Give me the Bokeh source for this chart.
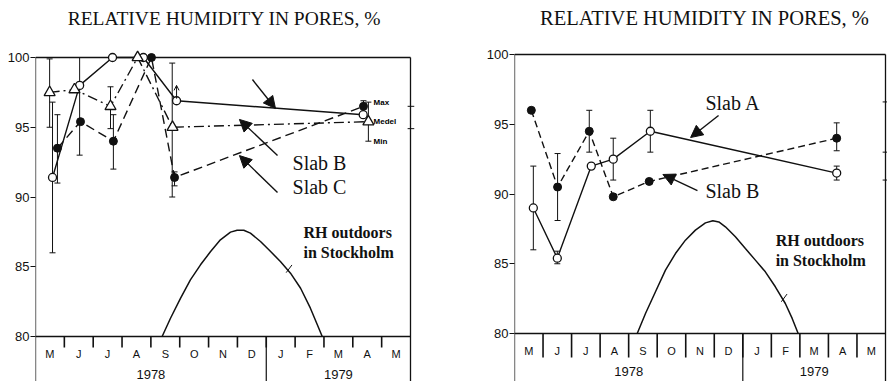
import numpy as np
from bokeh.plotting import figure
from bokeh.layouts import row
from bokeh.models import Arrow, NormalHead, OpenHead, FixedTicker
from bokeh.core.properties import value
from bokeh.embed import file_html
from bokeh.resources import INLINE

# ---- shared axis data -------------------------------------------------------
MONTHS = ["M", "J", "J", "A", "S", "O", "N", "D", "J", "F", "M", "A", "M"]
YEARS = ["1978", "1979"]
YEAR_START = [0, 8]          # month index where each year begins
YEAR_END = [8, 13]
RH_TICKS = [80, 85, 90, 95, 100]
TITLE = "RELATIVE HUMIDITY IN PORES, %"

# ---- left panel (time in months from 1 May 1978) ----------------------------
L_OPEN_T = [0.59, 1.53, 2.67, 3.74, 4.89, 11.36]
L_OPEN_RH = [91.4, 98.0, 100.0, 100.0, 96.9, 95.9]
L_FILLED_T = [0.76, 1.56, 2.70, 4.02, 4.82, 11.37]
L_FILLED_RH = [93.5, 95.4, 94.0, 100.0, 91.4, 96.5]
L_TRI_T = [0.49, 1.35, 2.60, 3.54, 4.75, 11.54]
L_TRI_RH = [97.5, 97.7, 96.5, 100.0, 95.0, 95.4]
L_ERR_T = [0.49, 0.59, 0.76, 1.53, 2.60, 2.70, 4.74, 4.82, 11.37, 11.54]
L_ERR_MIN = [95.0, 86.0, 91.0, 93.0, 94.9, 92.0, 90.0, 90.8, 96.1, 94.0]
L_ERR_MAX = [99.9, 96.8, 95.9, 100.0, 97.9, 95.9, 99.6, 91.8, 96.9, 96.8]
L_OUT_T = [4.39, 4.68, 5.03, 5.37, 5.72, 6.07, 6.41, 6.76, 6.99, 7.22, 7.45, 7.80,
           8.15, 8.49, 8.84, 9.19, 9.53, 9.77, 9.94]
L_OUT_RH = [80.0, 81.31, 82.75, 84.06, 85.14, 86.09, 86.93, 87.48, 87.62, 87.62,
            87.41, 86.81, 86.09, 85.38, 84.54, 83.46, 82.03, 80.84, 80.0]
L_EDGE_MARKS = [96.5, 94.9]

# ---- right panel ------------------------------------------------------------
R_OPEN_T = [0.66, 1.50, 2.69, 3.46, 4.76, 11.29]
R_OPEN_RH = [89.0, 85.4, 92.0, 92.5, 94.5, 91.5]
R_FILLED_T = [0.59, 1.51, 2.62, 3.46, 4.72, 11.29]
R_FILLED_RH = [96.0, 90.5, 94.5, 89.8, 90.9, 94.0]
R_ERR_T = [0.66, 1.50, 1.51, 2.62, 3.46, 4.76, 11.29, 11.29]
R_ERR_MIN = [86.0, 85.0, 88.1, 93.0, 91.0, 93.0, 93.1, 91.0]
R_ERR_MAX = [92.0, 85.9, 92.9, 96.0, 94.0, 96.0, 95.1, 92.0]
R_OUT_T = [4.30, 4.59, 4.94, 5.29, 5.64, 5.99, 6.34, 6.69, 6.95, 7.16, 7.39, 7.74,
           8.09, 8.44, 8.79, 9.14, 9.49, 9.73, 9.94]
R_OUT_RH = [80.0, 81.43, 82.99, 84.54, 85.73, 86.69, 87.41, 87.93, 88.08, 88.0,
            87.65, 86.93, 86.09, 85.26, 84.42, 83.35, 82.15, 81.08, 80.0]
R_EDGE_MARKS = [96.6, 93.0, 91.0]

INK = "#111111"
SERIF = value("Liberation Serif")
SANS = value("Liberation Sans")


def make_panel(width, left_px, px_month, px_rh, y_base_px, y_top_px):
    height = 381
    x_end = (width - left_px) / px_month
    y_end = 100 + y_top_px / px_rh
    y_start = 80 - (height - y_base_px) / px_rh
    p = figure(width=width, height=height, x_range=(0, x_end), y_range=(y_start, y_end),
               output_backend="svg", toolbar_location=None, x_axis_location=None,
               title_location=None, min_border=0, min_border_left=left_px)
    p.outline_line_color = None
    p.grid.visible = False
    p.background_fill_color = "white"
    p.border_fill_color = "white"
    ax = p.yaxis[0]
    ax.ticker = FixedTicker(ticks=RH_TICKS)
    ax.axis_line_color = None
    ax.major_tick_out = 5
    ax.major_tick_in = 0
    ax.minor_tick_line_color = None
    ax.major_tick_line_color = INK
    ax.major_tick_line_width = 1.2
    ax.major_label_standoff = 1
    ax.major_label_text_font = "Liberation Sans"
    ax.major_label_text_font_size = "13px"
    ax.major_label_text_color = INK

    n = len(MONTHS)
    # frame: left, right, top and bottom (80 %) lines
    p.segment(x0=[0, n], y0=[y_start, y_start], x1=[0, n], y1=[100, 100],
              line_color=INK, line_width=1.3)
    p.segment(x0=[0, 0], y0=[100, 80], x1=[n, n], y1=[100, 80],
              line_color=INK, line_width=1.4)
    p.segment(x0=[YEAR_END[0]], y0=[80.0], x1=[YEAR_END[0]], y1=[y_start],
              line_color=INK, line_width=1.2)
    month_y = 80 - 17 / px_rh
    p.text(x=[i + 0.5 for i in range(n)], y=[month_y] * n, text=MONTHS,
           text_align="center", text_baseline="middle", text_font=SANS,
           text_font_size="11px", text_color=INK)
    year_y = month_y - 21 / px_rh
    p.text(x=[(a + b) / 2 for a, b in zip(YEAR_START, YEAR_END)], y=[year_y] * 2,
           text=YEARS, text_align="center", text_baseline="middle", text_font=SANS,
           text_font_size="13px", text_color=INK)
    return p


def month_separators(p, px_rh, length_px):
    sx = [float(i) for i in range(1, len(MONTHS))]
    bot = 80.0 - length_px / px_rh
    p.segment(x0=sx, y0=[80.0] * len(sx), x1=sx, y1=[bot] * len(sx),
              line_color=INK, line_width=1.6)


def error_bars(p, t, lo, hi):
    p.segment(x0=t, y0=lo, x1=t, y1=hi, line_color=INK, line_width=1)
    p.scatter(x=t + t, y=lo + hi, marker="dash", size=6, line_color=INK, line_width=1)


def outdoor_curve(p, t, rh, mark_t, text_x, text_y):
    p.line(x=t, y=rh, line_color=INK, line_width=1.5)
    my = float(np.interp(mark_t, t, rh))
    p.segment(x0=[mark_t - 0.03], y0=[my - 0.25], x1=[mark_t + 0.17], y1=[my + 0.3],
              line_color=INK, line_width=1)
    p.text(x=[text_x, text_x], y=[text_y, text_y - 1.45],
           text=["RH outdoors", "in Stockholm"], text_font=SERIF,
           text_font_style="bold", text_font_size="16px", text_baseline="middle",
           text_color=INK)


def arrow(p, x0, y0, x1, y1, size=12):
    p.add_layout(Arrow(x_start=x0, y_start=y0, x_end=x1, y_end=y1,
                       line_color=INK, line_width=1.4,
                       end=NormalHead(size=size, fill_color=INK, line_color=INK)))


# ---------------- left panel ----------------
left = make_panel(470, 35, 375 / 13, 13.95, 336, 57)
left.text(x=[6.55], y=[80 + (336 - 28) / 13.95], text=[TITLE], text_align="center",
          text_font=SERIF, text_font_size="19.5px", text_color=INK)
outdoor_curve(left, L_OUT_T, L_OUT_RH, 8.72, 9.29, 87.46)
left.segment(x0=[12.9] * 2, y0=L_EDGE_MARKS, x1=[13.13] * 2, y1=L_EDGE_MARKS,
             line_color=INK, line_width=1)

left.line(L_OPEN_T, L_OPEN_RH, line_color=INK, line_width=1.4)
left.line(L_FILLED_T, L_FILLED_RH, line_color=INK, line_width=1.4, line_dash="9 5")
left.line(L_TRI_T, L_TRI_RH, line_color=INK, line_width=1.4, line_dash="10 4 2 4")
error_bars(left, L_ERR_T, L_ERR_MIN, L_ERR_MAX)
left.add_layout(Arrow(x_start=L_OPEN_T[4], y_start=L_OPEN_RH[4] + 0.15,
                      x_end=L_OPEN_T[4], y_end=L_OPEN_RH[4] + 1.1,
                      line_color=INK, line_width=1,
                      end=OpenHead(size=5, line_color=INK, line_width=1)))
left.scatter(L_OPEN_T, L_OPEN_RH, marker="circle", size=8, fill_color="white",
             line_color=INK, line_width=1.3)
left.scatter(L_FILLED_T, L_FILLED_RH, marker="circle", size=8, fill_color=INK,
             line_color=INK)
left.scatter(L_TRI_T, L_TRI_RH, marker="triangle", size=11, fill_color="white",
             line_color=INK, line_width=1.3)

# Max / Medel / Min key on the last triangle's bar
left.text(x=[11.72] * 3, y=[L_ERR_MAX[-1], L_TRI_RH[-1], L_ERR_MIN[-1]],
          text=["Max", "Medel", "Min"], text_baseline="middle", text_font=SANS,
          text_font_style="bold", text_font_size="8px", text_color="#000000")

arrow(left, 7.52, 98.42, 8.32, 96.34)
arrow(left, 8.39, 92.97, 7.07, 95.56)
arrow(left, 8.39, 90.32, 7.07, 92.97)
left.text(x=[8.91, 8.91], y=[92.47, 90.75], text=["Slab B", "Slab C"],
          text_baseline="middle", text_font=SERIF, text_font_size="20px",
          text_color=INK)
month_separators(left, 13.95, 11)

# ---------------- right panel ----------------
right = make_panel(417, 44, 371 / 13, 13.95, 333, 54)
right.text(x=[6.67], y=[80 + (333 - 28) / 13.95], text=[TITLE], text_align="center",
           text_font=SERIF, text_font_size="20.5px", text_color=INK)
outdoor_curve(right, R_OUT_T, R_OUT_RH, 9.38, 9.15, 86.67)
right.segment(x0=[12.9] * 3, y0=R_EDGE_MARKS, x1=[13.1] * 3, y1=R_EDGE_MARKS,
              line_color=INK, line_width=1)

right.line(R_OPEN_T, R_OPEN_RH, line_color=INK, line_width=1.4)
right.line(R_FILLED_T, R_FILLED_RH, line_color=INK, line_width=1.4, line_dash="7 4")
error_bars(right, R_ERR_T, R_ERR_MIN, R_ERR_MAX)
right.scatter(R_OPEN_T, R_OPEN_RH, marker="circle", size=8, fill_color="white",
              line_color=INK, line_width=1.3)
right.scatter(R_FILLED_T, R_FILLED_RH, marker="circle", size=8, fill_color=INK,
              line_color=INK)

arrow(right, 7.15, 95.63, 6.17, 94.05)
arrow(right, 6.41, 90.25, 5.2, 91.4)
right.text(x=[6.69, 6.69], y=[96.5, 90.25], text=["Slab A", "Slab B"],
           text_baseline="middle", text_font=SERIF, text_font_size="20px",
           text_color=INK)
month_separators(right, 13.95, 24)

layout = row(left, right, spacing=0)
open("out.html", "w").write(file_html(layout, INLINE))
